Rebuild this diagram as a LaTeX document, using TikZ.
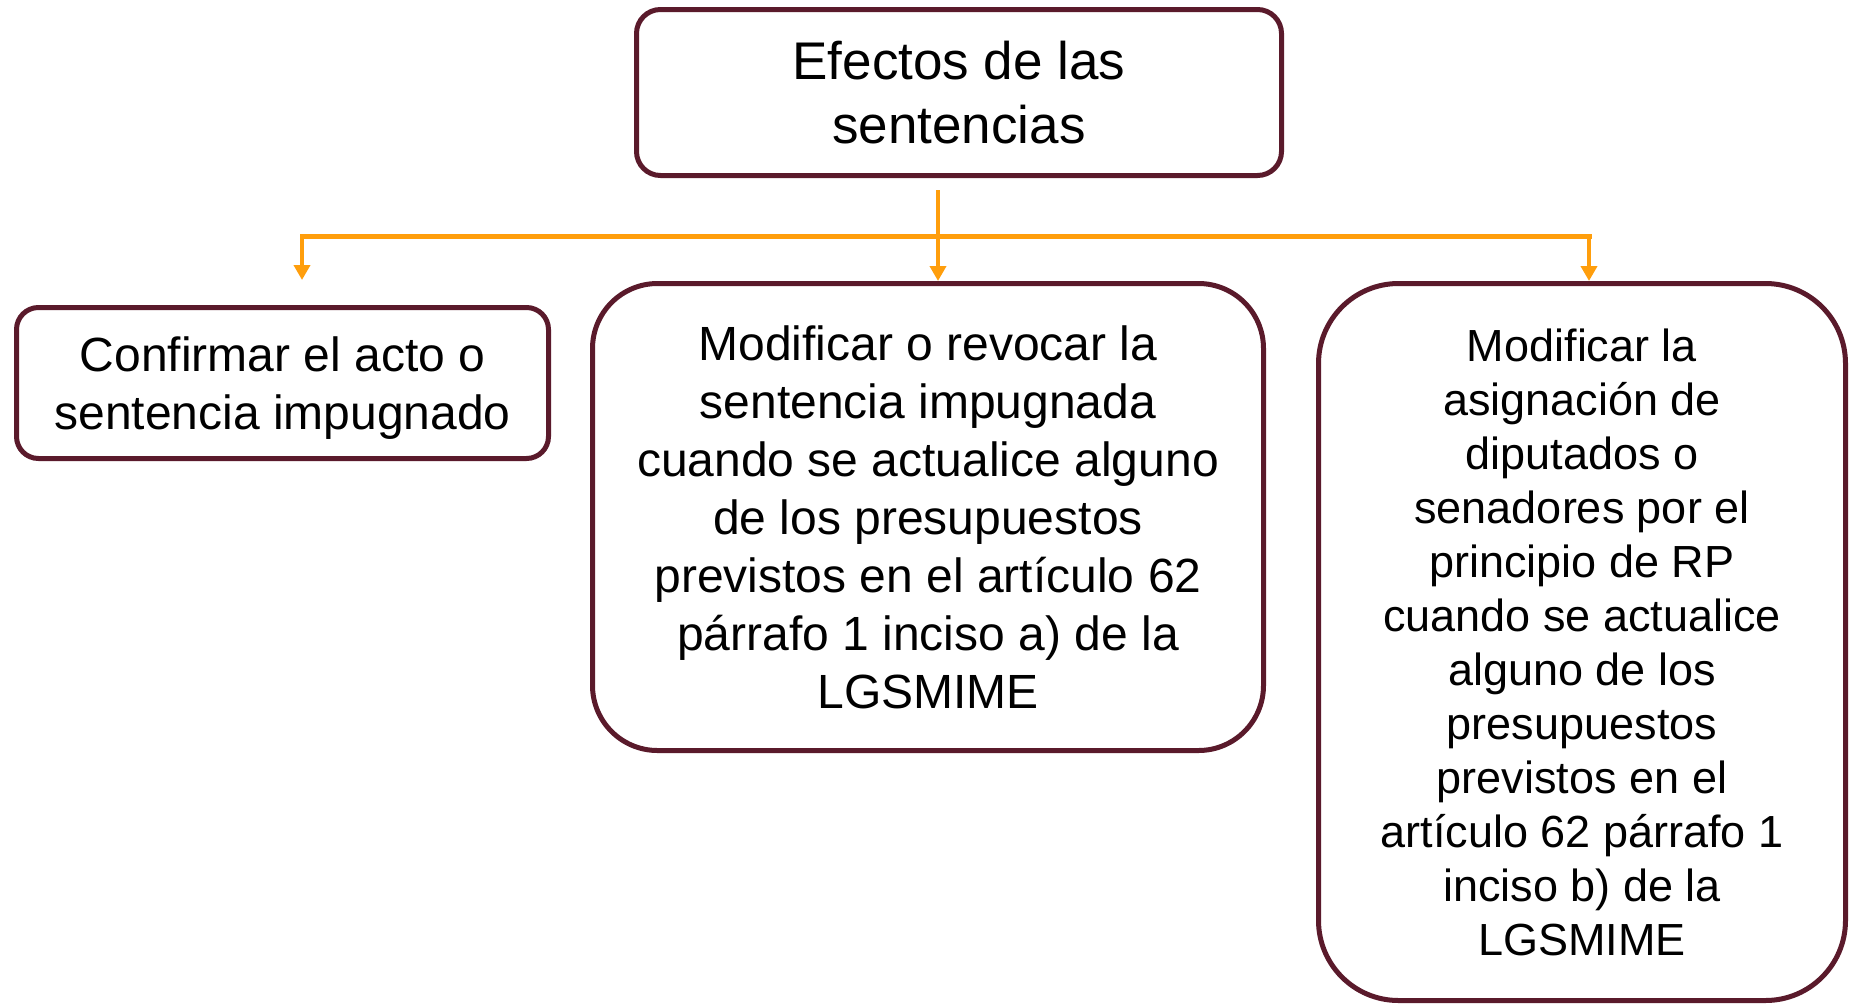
\documentclass[tikz,border=0pt]{standalone}
\usepackage{fontspec}
\setmainfont{Liberation Sans}
\usetikzlibrary{arrows.meta}
\definecolor{vino}{RGB}{90,26,43}
\definecolor{naranja}{RGB}{255,158,12}

\begin{document}
\begin{tikzpicture}[x=1pt, y=-1pt,
    caja/.style={draw=vino, line width=5pt, fill=white, align=center, inner sep=0pt},
    flecha/.style={draw=naranja, line width=4pt, -{Triangle[length=15pt,width=16pt]}},
    barra/.style={draw=naranja, line width=5pt, line cap=rect}]
    \useasboundingbox (0,0) rectangle (1850,1005);
    \node[caja, rounded corners=24pt, minimum width=645pt, minimum height=166pt, font=\fontsize{53}{64}\selectfont] (efectos) at (959,92.5) {Efectos de las\\sentencias};
    \node[caja, rounded corners=22pt, minimum width=532pt, minimum height=151pt, text depth=0pt, font=\fontsize{48}{58}\selectfont] (confirmar) at (282.5,383) {Confirmar el acto o\\sentencia impugnado};
    \node[caja, rounded corners=65pt, minimum width=671pt, minimum height=467pt, font=\fontsize{48}{58}\selectfont] (modificar) at (928,517) {Modificar o revocar la\\sentencia impugnada\\cuando se actualice alguno\\de los presupuestos\\previstos en el artículo 62\\párrafo 1 inciso a) de la\\LGSMIME};
    \node[caja, rounded corners=80pt, minimum width=527pt, minimum height=717pt, font=\fontsize{45}{54}\selectfont] (asignacion) at (1582,642) {Modificar la\\asignación de\\diputados o\\senadores por el\\principio de RP\\cuando se actualice\\alguno de los\\presupuestos\\previstos en el\\artículo 62 párrafo 1\\inciso b) de la\\LGSMIME};
    \coordinate (tronco) at (938,190);
    \coordinate (busL) at (302,236);
    \coordinate (busR) at (1589,236);
    \coordinate (puntaL) at (302,280);
    \draw[barra] (busL) -- (busR);
    \draw[flecha] (tronco) -- (tronco |- modificar.north);
    \draw[flecha] (busL) -- (puntaL);
    \draw[flecha] (busR) -- (busR |- asignacion.north);
\end{tikzpicture}
\end{document}
